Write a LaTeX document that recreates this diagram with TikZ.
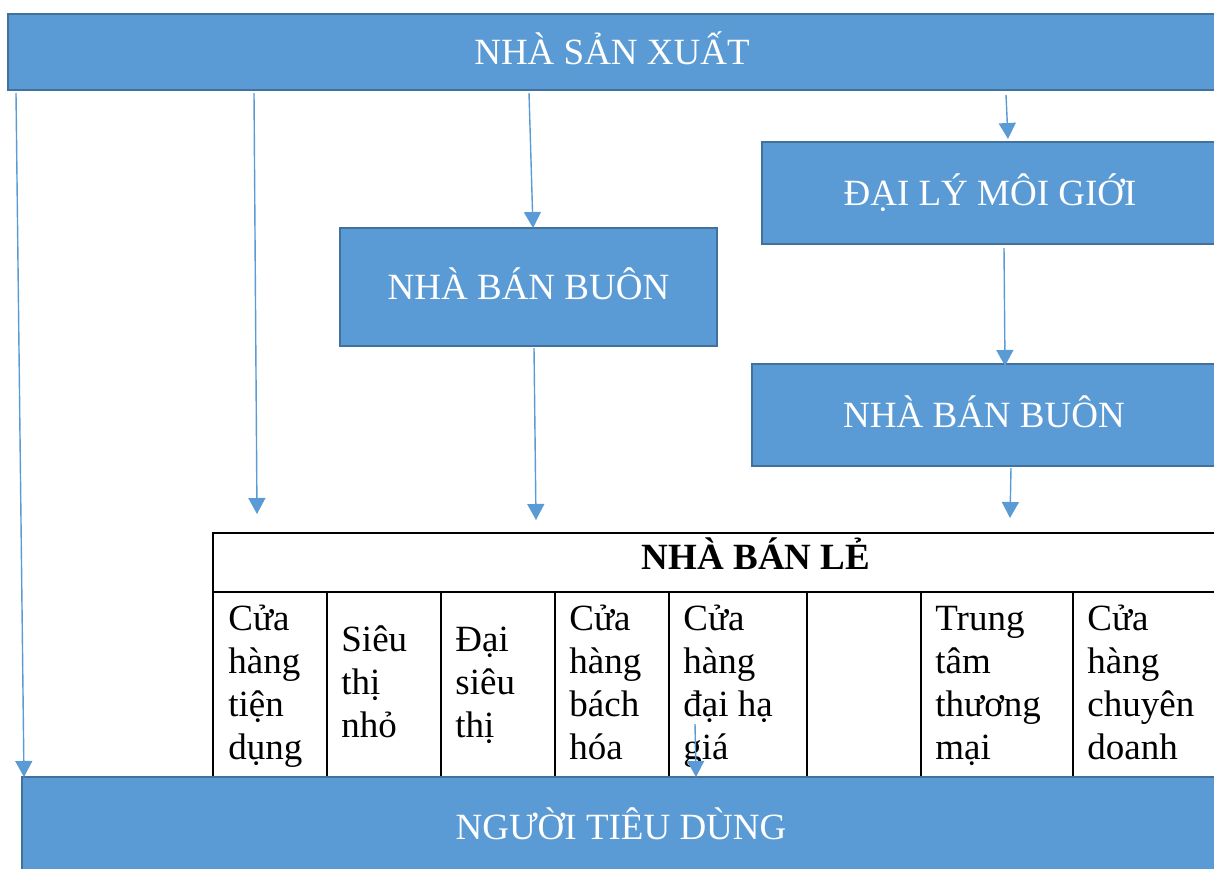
\documentclass[tikz,border=0pt]{standalone}
\usepackage{fontspec}
\setmainfont{Liberation Serif}
\usetikzlibrary{arrows.meta}
\definecolor{boxfill}{HTML}{5B9BD5}
\definecolor{boxline}{HTML}{41719C}
\definecolor{flow}{HTML}{5B9BD5}

\begin{document}
\begin{tikzpicture}[x=0.5pt, y=-0.5pt,
  box/.style={draw=boxline, fill=boxfill, line width=1pt, text=white,
              font=\fontsize{18.5}{21.5}\selectfont, inner sep=0pt,
              text height=12.2pt, text depth=0pt},
  cell/.style={anchor=west, align=left, inner sep=0pt,
               font=\fontsize{18.5}{21.5}\selectfont},
  grid/.style={line width=1pt},
  flw/.style={->, draw=flow, fill=flow, line width=0.7pt},
  >={Triangle[length=8pt, width=8.5pt]}
]
\useasboundingbox (0,0) rectangle (1214,868);
\clip (0,0) rectangle (1214,868);

% boxes
\node[box, minimum width=604pt, minimum height=38pt] (nsx) at (612,52) {NHÀ SẢN XUẤT};
\node[box, minimum width=228pt, minimum height=51pt] (dlmg) at (990,193) {ĐẠI LÝ MÔI GIỚI};
\node[box, minimum width=188.5pt, minimum height=59pt] (nbb1) at (528.5,287) {NHÀ BÁN BUÔN};
\node[box, minimum width=232pt, minimum height=51pt] (nbb2) at (984,415) {NHÀ BÁN BUÔN};

% table of retailers
\draw[grid] (213,780) -- (213,533) -- (1230,533);
\draw[grid] (213,592) -- (1230,592);
\foreach \x in {327,441,555,669,807,921,1073}
  \draw[grid] (\x,592) -- (\x,780);
\node[font=\fontsize{18.5}{21.5}\selectfont\bfseries, inner sep=0pt,
      text height=12.2pt, text depth=0pt] (nbl) at (756,557) {NHÀ BÁN LẺ};
\node[cell] (c1) at (228,686) {\strut Cửa\\hàng\\tiện\\dụng\strut};
\node[cell] (c2) at (341,686) {\strut Siêu\\thị\\nhỏ\strut};
\node[cell] (c3) at (455,686) {\strut Đại\\siêu\\thị\strut};
\node[cell] (c4) at (569,686) {\strut Cửa\\hàng\\bách\\hóa\strut};
\node[cell] (c5) at (683,686) {\strut Cửa\\hàng\\đại hạ\\giá\strut};
\node[cell] (c6) at (935,686) {\strut Trung\\tâm\\thương\\mại\strut};
\node[cell] (c7) at (1087,686) {\strut Cửa\\hàng\\chuyên\\doanh\strut};

\node[box, minimum width=599pt, minimum height=50pt] (ntd) at (621,827) {NGƯỜI TIÊU DÙNG};

% free ends of the arrows
\coordinate (s1) at (16,93);    \coordinate (e1) at (24,777);
\coordinate (s2) at (254,93);   \coordinate (e2) at (257,514);
\coordinate (s3) at (529,93);   \coordinate (e3) at (533,228);
\coordinate (s4) at (1006,95);  \coordinate (e4) at (1008,139);
\coordinate (s5) at (1004,248); \coordinate (e5) at (1005,366);
\coordinate (s6) at (534,348);  \coordinate (e6) at (536,520);
\coordinate (s7) at (1011,468); \coordinate (e7) at (1010,518);
\coordinate (s8) at (695,724);  \coordinate (e8) at (696,777);

\draw[flw] (s1) -- (e1);
\draw[flw] (s2) -- (e2);
\draw[flw] (s3) -- (e3);
\draw[flw] (s4) -- (e4);
\draw[flw] (s5) -- (e5);
\draw[flw] (s6) -- (e6);
\draw[flw] (s7) -- (e7);
\draw[flw] (s8) -- (e8);
\end{tikzpicture}
\end{document}
